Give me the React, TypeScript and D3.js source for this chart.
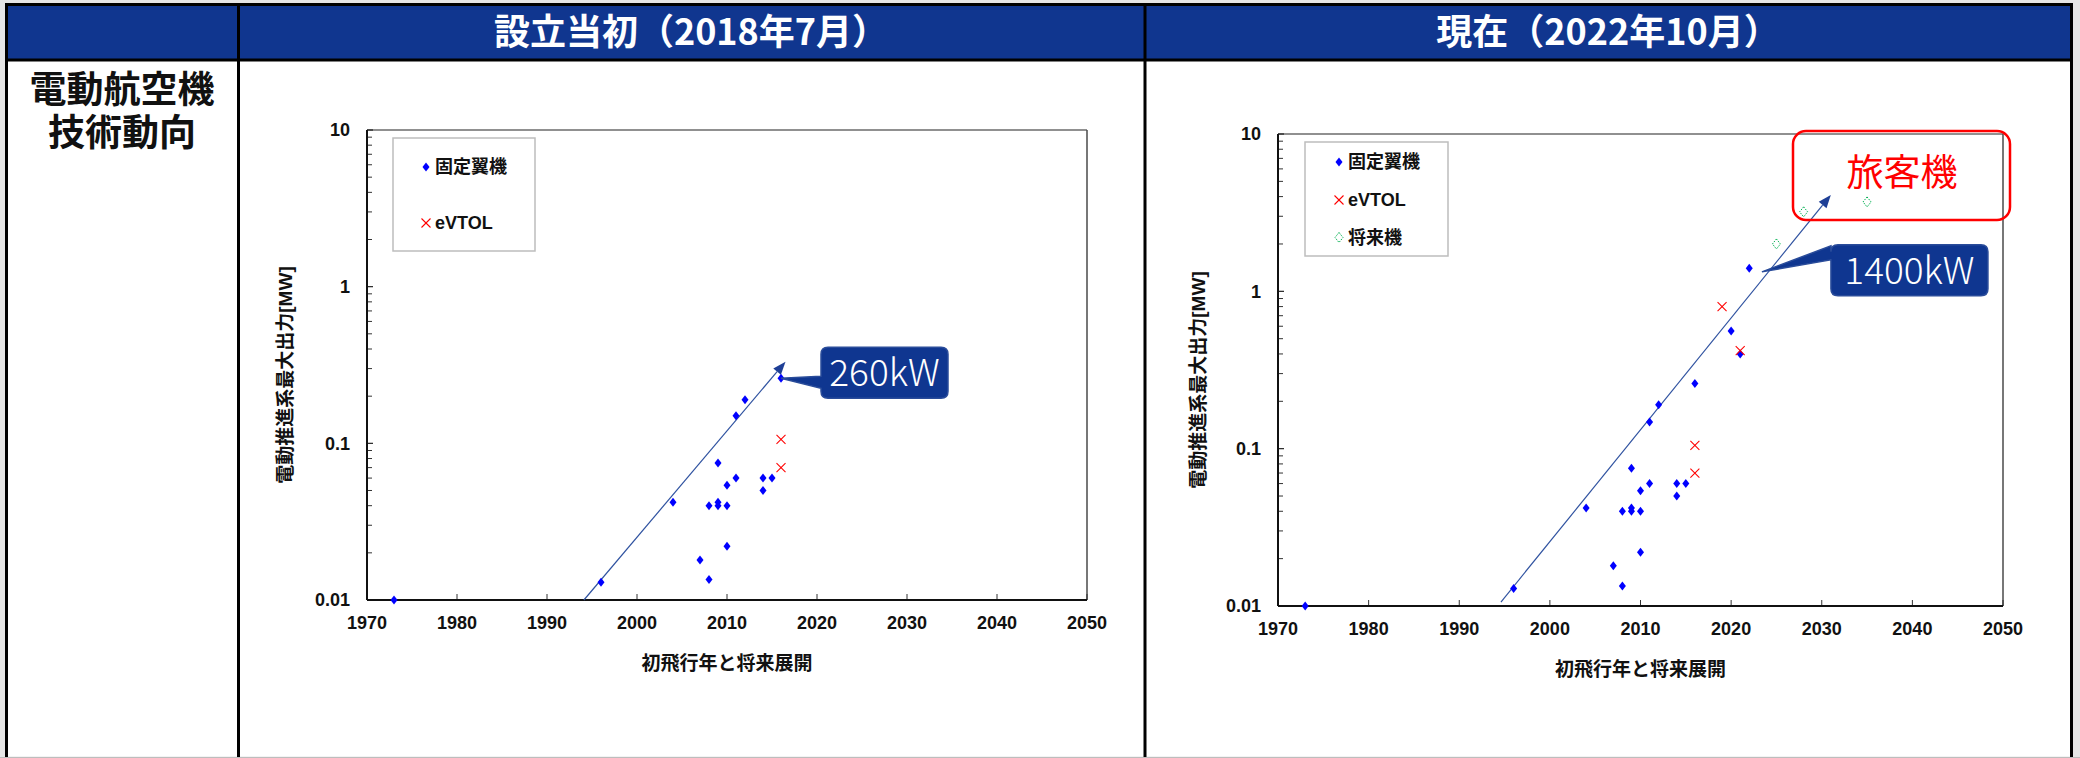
import React from 'react';
import * as d3 from 'd3';

// ---------- data ----------
const xTickYears = [1970, 1980, 1990, 2000, 2010, 2020, 2030, 2040, 2050];
const yTickValues = [0.01, 0.1, 1, 10];
const yTickLabels = ['0.01', '0.1', '1', '10'];

const headerTitles = ['設立当初（2018年7月）', '現在（2022年10月）'];
const rowLabelLines = ['電動航空機', '技術動向'];
const xAxisTitle = '初飛行年と将来展開';
const yAxisTitle = '電動推進系最大出力[MW]';
const legend2018 = ['固定翼機', 'eVTOL'];
const legend2022 = ['固定翼機', 'eVTOL', '将来機'];

const fixed2018Years = [1973, 1996, 2004, 2007, 2008, 2008, 2009, 2009, 2009, 2010, 2010, 2010, 2011, 2011, 2012, 2014, 2014, 2015, 2016];
const fixed2018MW = [0.01, 0.013, 0.042, 0.018, 0.0135, 0.04, 0.075, 0.042, 0.04, 0.054, 0.04, 0.022, 0.06, 0.15, 0.19, 0.06, 0.05, 0.06, 0.26];
const evtol2018Years = [2016, 2016];
const evtol2018MW = [0.106, 0.07];
const trend2018Years = [1994.1, 2016.5];
const trend2018MW = [0.01, 0.332];

const fixed2022Years = [1973, 1996, 2004, 2007, 2008, 2008, 2009, 2009, 2009, 2010, 2010, 2010, 2011, 2011, 2012, 2014, 2014, 2015, 2016, 2020, 2021, 2022];
const fixed2022MW = [0.01, 0.0129, 0.042, 0.018, 0.0134, 0.04, 0.075, 0.042, 0.04, 0.054, 0.04, 0.022, 0.06, 0.148, 0.19, 0.06, 0.05, 0.06, 0.26, 0.56, 0.4, 1.4];
const evtol2022Years = [2016, 2016, 2019, 2021];
const evtol2022MW = [0.105, 0.07, 0.8, 0.42];
const future2022Years = [2025, 2028, 2035];
const future2022MW = [2.0, 3.2, 3.7];
const trend2022Years = [1994.6, 2031];
const trend2022MW = [0.0106, 4.1];

const callout2018 = { text: '260kW', year: 2016, mw: 0.26 };
const callout2022 = { text: '1400kW', year: 2023.4, mw: 1.33 };
const passengerLabel = '旅客機';

// ---------- styles ----------
const LATIN = "'Liberation Sans', Arial, 'Noto Sans CJK JP', sans-serif";
const CJK = "'Noto Sans CJK JP', 'Liberation Sans', sans-serif";
const HEADER_BLUE = '#10368F';
const POINT_BLUE = '#0000FF';
const RED = '#FF0000';
const GREEN = '#00B050';
const TREND = '#2F52A0';

function diamond(x: number, y: number, w = 3.5, h = 4.5) {
  return `M${x},${y - h}L${x + w},${y}L${x},${y + h}L${x - w},${y}Z`;
}

function Cross({ x, y, s = 4.5 }: { x: number; y: number; s?: number }) {
  return (
    <g stroke={RED} strokeWidth={1.1}>
      <line x1={x - s} y1={y - s} x2={x + s} y2={y + s} />
      <line x1={x - s} y1={y + s} x2={x + s} y2={y - s} />
    </g>
  );
}

function calloutPath(tipX: number, tipY: number, left: number, top: number, w: number, h: number, baseTop: number, baseBot: number, r = 7) {
  const right = left + w;
  const bottom = top + h;
  return [
    `M${left + r},${top}`,
    `L${right - r},${top}`,
    `Q${right},${top} ${right},${top + r}`,
    `L${right},${bottom - r}`,
    `Q${right},${bottom} ${right - r},${bottom}`,
    `L${left + r},${bottom}`,
    `Q${left},${bottom} ${left},${bottom - r}`,
    `L${left},${baseBot}`,
    `L${tipX},${tipY}`,
    `L${left},${baseTop}`,
    `L${left},${top + r}`,
    `Q${left},${top} ${left + r},${top}`,
    'Z',
  ].join(' ');
}

type ChartProps = {
  x0: number; x1: number; yTop: number; yBot: number;
  fixedYears: number[]; fixedMW: number[];
  evtolYears: number[]; evtolMW: number[];
  futureYears?: number[]; futureMW?: number[];
  trendYears: number[]; trendMW: number[];
  legendItems: string[];
  legendBox: { x: number; y: number; w: number; h: number };
  legendRows: number[]; legendMarkerX: number;
  yTitleX: number; yTitleY: number;
  callout: { text: string; year: number; mw: number };
  calloutBox: { dx: number; dy: number; w: number; h: number; bt: number; bb: number };
  children?: React.ReactNode;
};

function Chart(p: ChartProps) {
  const x = d3.scaleLinear().domain([1970, 2050]).range([p.x0, p.x1]);
  const y = d3.scaleLog().domain([0.01, 10]).range([p.yBot, p.yTop]);
  const minor: number[] = [];
  [0.01, 0.1, 1].forEach((d) => { for (let k = 2; k <= 9; k++) minor.push(d * k); });

  // trend line with arrow
  const tx0 = x(p.trendYears[0]), ty0 = y(p.trendMW[0]);
  const tx1 = x(p.trendYears[1]), ty1 = y(p.trendMW[1]);
  const ang = Math.atan2(ty1 - ty0, tx1 - tx0);
  const aLen = 13, aW = 5;
  const bx = tx1 - aLen * Math.cos(ang), by = ty1 - aLen * Math.sin(ang);
  const nx = -Math.sin(ang), ny = Math.cos(ang);
  const line = d3.line<[number, number]>()([[tx0, ty0], [bx, by]]) || '';

  const cx = x(p.callout.year), cy = y(p.callout.mw);
  const cb = p.calloutBox;
  const cLeft = cx + cb.dx, cTop = cy + cb.dy;

  return (
    <g>
      {/* frame */}
      <line x1={p.x0} y1={p.yTop} x2={p.x1} y2={p.yTop} stroke="#6b6b6b" strokeWidth={1.5} />
      <line x1={p.x1} y1={p.yTop} x2={p.x1} y2={p.yBot} stroke="#4a4a4a" strokeWidth={1.5} />
      {/* y ticks */}
      {minor.map((v, i) => (
        <line key={'mn' + i} x1={p.x0} x2={p.x0 + 5} y1={y(v)} y2={y(v)} stroke="#333" strokeWidth={1} />
      ))}
      {yTickValues.map((v, i) => (
        <g key={'yt' + i}>
          <line x1={p.x0} x2={p.x0 + 6} y1={y(v)} y2={y(v)} stroke="#222" strokeWidth={1.2} />
          <text x={p.x0 - 17} y={y(v)} dy="0.36em" textAnchor="end" fontFamily={LATIN} fontWeight="bold" fontSize={18} fill="#111">{yTickLabels[i]}</text>
        </g>
      ))}
      {/* x ticks */}
      {xTickYears.map((t) => (
        <g key={'xt' + t}>
          <line x1={x(t)} x2={x(t)} y1={p.yBot} y2={p.yBot - 6} stroke="#333" strokeWidth={1} />
          <text x={x(t)} y={p.yBot + 23} dy="0.36em" textAnchor="middle" fontFamily={LATIN} fontWeight="bold" fontSize={18} fill="#111">{t}</text>
        </g>
      ))}
      {/* axes */}
      <line x1={p.x0} y1={p.yTop} x2={p.x0} y2={p.yBot} stroke="#111" strokeWidth={2} />
      <line x1={p.x0} y1={p.yBot} x2={p.x1} y2={p.yBot} stroke="#111" strokeWidth={2} />
      {/* axis titles */}
      <text x={(p.x0 + p.x1) / 2} y={p.yBot + 63} dy="0.36em" textAnchor="middle" fontFamily={LATIN} fontWeight="bold" fontSize={19} fill="#111">{xAxisTitle}</text>
      <text transform={`translate(${p.yTitleX},${p.yTitleY}) rotate(-90)`} dy="0.36em" textAnchor="middle" fontFamily={LATIN} fontWeight="bold" fontSize={19} fill="#111">{yAxisTitle}</text>
      {/* legend */}
      <rect x={p.legendBox.x} y={p.legendBox.y} width={p.legendBox.w} height={p.legendBox.h} fill="#fff" stroke="#bdbdbd" strokeWidth={1.5} />
      {p.legendItems.map((lab, i) => {
        const ly = p.legendRows[i];
        const mx = p.legendMarkerX;
        return (
          <g key={'lg' + i}>
            {i === 0 && <path d={diamond(mx, ly)} fill={POINT_BLUE} />}
            {i === 1 && <Cross x={mx} y={ly} />}
            {i === 2 && <path d={diamond(mx, ly, 4, 5)} fill="none" stroke={GREEN} strokeWidth={1} strokeDasharray="1.5 1.2" />}
            <text x={mx + 9} y={ly} dy="0.36em" fontFamily={LATIN} fontWeight="bold" fontSize={18} fill="#111">{lab}</text>
          </g>
        );
      })}
      {/* trend arrow */}
      <path d={line} stroke={TREND} strokeWidth={1.2} fill="none" />
      <path d={`M${tx1},${ty1}L${bx + nx * aW},${by + ny * aW}L${bx - nx * aW},${by - ny * aW}Z`} fill="#1E3F96" />
      {/* points */}
      {p.fixedYears.map((yr, i) => (
        <path key={'f' + i} d={diamond(x(yr), y(p.fixedMW[i]))} fill={POINT_BLUE} />
      ))}
      {p.evtolYears.map((yr, i) => (
        <Cross key={'e' + i} x={x(yr)} y={y(p.evtolMW[i])} />
      ))}
      {p.futureYears && p.futureMW && p.futureYears.map((yr, i) => (
        <path key={'u' + i} d={diamond(x(yr), y(p.futureMW![i]), 4, 5)} fill="none" stroke={GREEN} strokeWidth={1} strokeDasharray="1.5 1.2" />
      ))}
      {p.children}
      {/* callout */}
      <path d={calloutPath(cx, cy, cLeft, cTop, cb.w, cb.h, cTop + cb.bt, cTop + cb.bb)} fill="#0F3690" stroke="#2a4c9a" strokeWidth={1.5} />
      <text x={cLeft + cb.w / 2} y={cTop + cb.h / 2} dy="0.36em" textAnchor="middle" fontFamily={CJK} fontWeight={300} fontSize={37} fill="#fff">{p.callout.text}</text>
    </g>
  );
}

export default function App() {
  return (
    <svg width={2080} height={758} style={{ position: 'absolute', left: 0, top: 0, display: 'block' }}>
      <rect x={0} y={0} width={2080} height={758} fill="#e6e6e6" />
      <rect x={6} y={4.5} width={2066} height={752} fill="#fff" />
      {/* header */}
      <rect x={6} y={4.5} width={2066} height={55.5} fill={HEADER_BLUE} />
      <g stroke="#000" strokeWidth={3}>
        <line x1={5} y1={4.5} x2={2073} y2={4.5} />
        <line x1={5} y1={60} x2={2073} y2={60} />
        <line x1={6.5} y1={3} x2={6.5} y2={758} />
        <line x1={238.5} y1={3} x2={238.5} y2={758} />
        <line x1={1145} y1={3} x2={1145} y2={758} />
        <line x1={2071.5} y1={3} x2={2071.5} y2={758} />
      </g>
      <line x1={0} y1={757.5} x2={2080} y2={757.5} stroke="#bdbdbd" strokeWidth={1} />
      <text x={691} y={32} dy="0.36em" textAnchor="middle" fontFamily={CJK} fontWeight="bold" fontSize={36} fill="#fff">{headerTitles[0]}</text>
      <text x={1608} y={32} dy="0.36em" textAnchor="middle" fontFamily={CJK} fontWeight="bold" fontSize={36} fill="#fff">{headerTitles[1]}</text>
      <text x={122} y={90} dy="0.36em" textAnchor="middle" fontFamily={CJK} fontWeight="bold" fontSize={37} fill="#111">
        {rowLabelLines.map((l, i) => (
          <tspan key={l} x={122} dy={i === 0 ? '0.36em' : 43}>{l}</tspan>
        ))}
      </text>

      <Chart
        x0={367} x1={1087} yTop={130} yBot={600}
        fixedYears={fixed2018Years} fixedMW={fixed2018MW}
        evtolYears={evtol2018Years} evtolMW={evtol2018MW}
        trendYears={trend2018Years} trendMW={trend2018MW}
        legendItems={legend2018}
        legendBox={{ x: 393, y: 138, w: 142, h: 113 }}
        legendRows={[167, 223]} legendMarkerX={426}
        yTitleX={285} yTitleY={375}
        callout={callout2018}
        calloutBox={{ dx: 40, dy: -31, w: 127, h: 51, bt: 29, bb: 41 }}
      />
      <Chart
        x0={1278} x1={2003} yTop={134} yBot={606}
        fixedYears={fixed2022Years} fixedMW={fixed2022MW}
        evtolYears={evtol2022Years} evtolMW={evtol2022MW}
        futureYears={future2022Years} futureMW={future2022MW}
        trendYears={trend2022Years} trendMW={trend2022MW}
        legendItems={legend2022}
        legendBox={{ x: 1305, y: 142, w: 143, h: 114 }}
        legendRows={[162, 200, 237.5]} legendMarkerX={1339}
        yTitleX={1198} yTitleY={380}
        callout={callout2022}
        calloutBox={{ dx: 69, dy: -27, w: 157, h: 51, bt: 1, bb: 15 }}
      >
        <rect x={1793} y={131} width={217} height={89} rx={13} fill="none" stroke={RED} strokeWidth={2.5} />
        <text x={1902} y={173} dy="0.36em" textAnchor="middle" fontFamily={CJK} fontSize={37} fill={RED}>{passengerLabel}</text>
      </Chart>
    </svg>
  );
}
